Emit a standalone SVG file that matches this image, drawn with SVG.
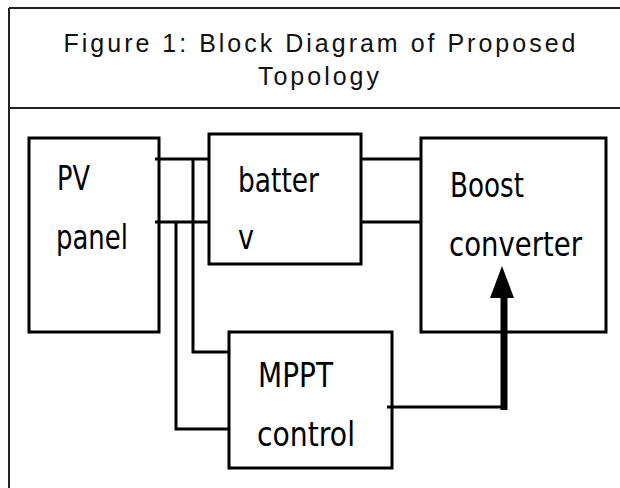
<svg xmlns="http://www.w3.org/2000/svg" width="620" height="488" viewBox="0 0 620 488">
<style>
.frame{stroke:#222;stroke-width:2;fill:none}
.box{fill:none;stroke:#000;stroke-width:3}
.wire{stroke:#000;stroke-width:3;fill:none}
.thick{stroke:#000;stroke-width:7;fill:none}
.title{font-family:"Liberation Sans",Arial,sans-serif;font-size:25px;letter-spacing:3px;fill:#111;text-anchor:middle}
.lbl{font-family:"DejaVu Sans",sans-serif;font-size:33px;fill:#000}
</style>
<rect width="620" height="488" fill="#fff"/>
<g id="frame">
<path class="frame" d="M9 8 H620 M9 8 V488"/>
<path d="M9 108 H620" stroke="#222" stroke-width="2"/>
<text class="title" x="321" y="52">Figure 1: Block Diagram of Proposed</text>
<text class="title" x="320" y="85">Topology</text>
</g>
<g id="pv">
<rect class="box" x="29" y="138" width="130" height="194"/>
<text class="lbl" x="57" y="190" textLength="33" lengthAdjust="spacingAndGlyphs">PV</text>
<text class="lbl" x="56" y="249" textLength="72" lengthAdjust="spacingAndGlyphs">panel</text>
</g>
<g id="battery">
<rect class="box" x="209" y="134" width="152" height="130"/>
<text class="lbl" x="238" y="192" textLength="81" lengthAdjust="spacingAndGlyphs">batter</text>
<text class="lbl" x="238" y="249" textLength="16" lengthAdjust="spacingAndGlyphs">v</text>
</g>
<g id="boost">
<rect class="box" x="421" y="138" width="185" height="194"/>
<text class="lbl" x="450" y="197" textLength="74" lengthAdjust="spacingAndGlyphs">Boost</text>
<text class="lbl" x="449" y="256" textLength="133" lengthAdjust="spacingAndGlyphs">converter</text>
</g>
<g id="mppt">
<rect class="box" x="229" y="332" width="163" height="136"/>
<text class="lbl" x="258" y="387" textLength="75" lengthAdjust="spacingAndGlyphs">MPPT</text>
<text class="lbl" x="257" y="446" textLength="98" lengthAdjust="spacingAndGlyphs">control</text>
</g>
<g id="connectors">
<path class="wire" d="M155 159 H209 M155 222 H209"/>
<path class="wire" d="M193 159 V352 H229"/>
<path class="wire" d="M176 222 V429 H229"/>
<path class="wire" d="M361 159 H421 M361 222 H421"/>
<path class="wire" d="M387 407 H504"/>
<path class="thick" d="M504 410 V296"/>
<path d="M502 266 L514 298 L490 298 Z" fill="#000"/>
</g>
</svg>
